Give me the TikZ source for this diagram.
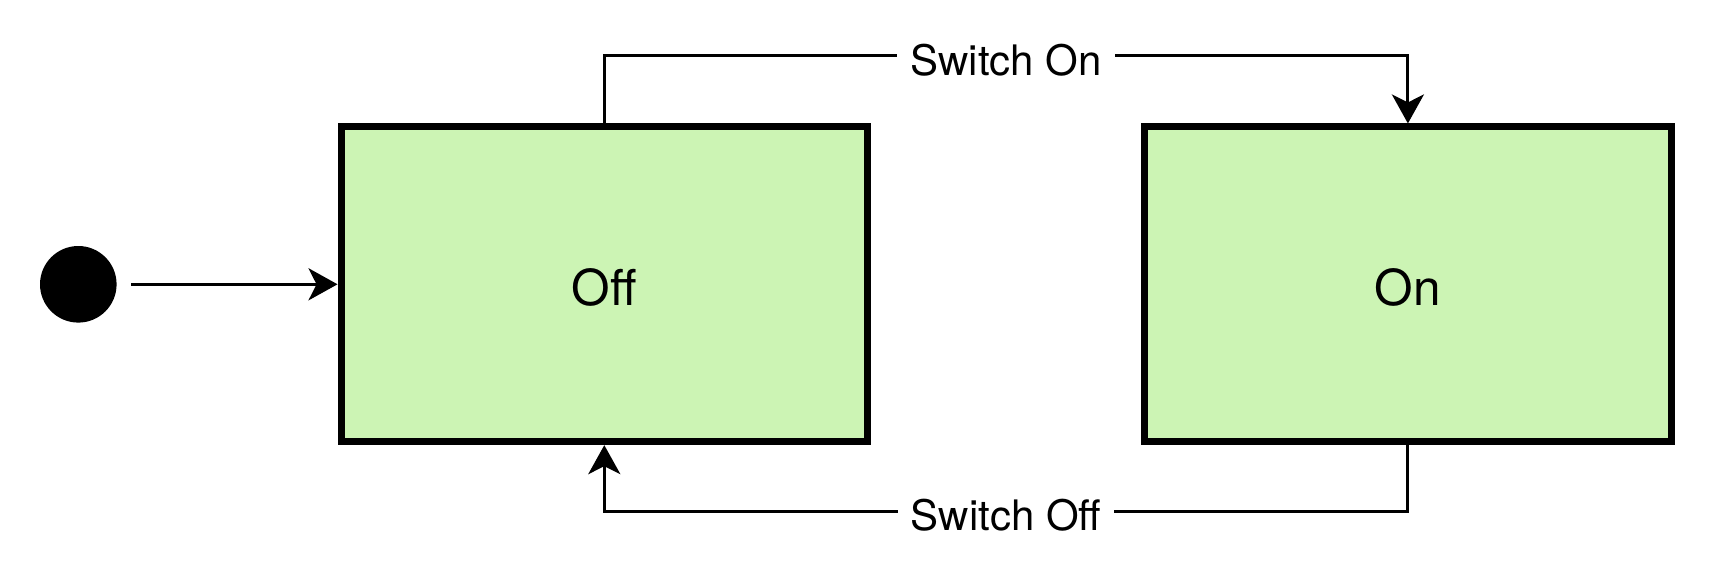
\documentclass[tikz,border=0pt]{standalone}
\usepackage{fontspec}
\setmainfont{TeX Gyre Heros}
\usetikzlibrary{arrows.meta}
\definecolor{stategreen}{RGB}{204,244,180}
\tikzset{
  statebox/.style={draw=black, line width=7pt, fill=stategreen, rectangle,
    minimum width=526.5pt, minimum height=314.7pt, inner sep=0pt,
    font=\fontsize{49.5}{59}\selectfont},
  boxtext/.style={inner sep=0pt, font=\fontsize{49.5}{59}\selectfont},
  startdot/.style={circle, fill=black, minimum size=76.6pt, inner sep=0pt},
  conn/.style={line width=3pt, line join=miter,
    -{Stealth[length=29pt, width=32pt, inset=8pt]}},
  edgelabel/.style={fill=white, inner xsep=13pt, inner ysep=4pt,
    font=\fontsize{42}{50}\selectfont, yshift=-4pt}
}
\begin{document}
\begin{tikzpicture}[x=1pt, y=-1pt]
\useasboundingbox (0,0) rectangle (1722,570);
\node[startdot] (init) at (78.3,284.3) {};
\node[statebox] (off) at (604.3,284.3) {};
\node[statebox] (on) at (1407.9,284.3) {};
\node[boxtext] (offtext) at (604.3,287.5) {Off};
\node[boxtext] (ontext) at (1407.9,287.5) {On};
\coordinate (top) at (0,55.7);
\coordinate (bot) at (0,511.3);
\draw[conn, shorten <=14.4pt] (init) -- (off);
\draw[conn] (off.north) -- (off.north |- top)
  -- node[edgelabel] {Switch On} (on.north |- top) -- (on.north);
\draw[conn] (on.south) -- (on.south |- bot)
  -- node[edgelabel] {Switch Off} (off.south |- bot) -- (off.south);
\end{tikzpicture}
\end{document}
